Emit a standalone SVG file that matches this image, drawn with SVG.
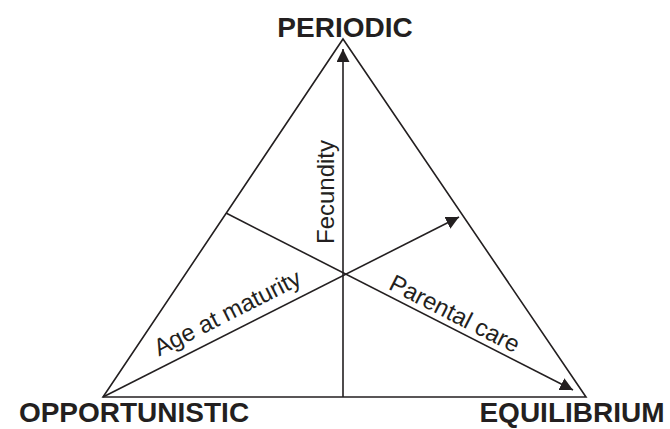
<svg xmlns="http://www.w3.org/2000/svg" width="670" height="429" viewBox="0 0 670 429">
<style>
.ln{stroke:#231f20;stroke-width:1.6;fill:none}
.lbl{font-family:"Liberation Sans",Arial,sans-serif;font-weight:bold;font-size:28px;fill:#231f20}
.ax{font-family:"Liberation Sans",Arial,sans-serif;font-size:24px;fill:#231f20}
</style>
<defs>
<marker id="arr" markerUnits="userSpaceOnUse" markerWidth="15" markerHeight="14" refX="13" refY="6.5" orient="auto">
<path d="M0,0 L13,6.5 L0,13 Z" fill="#231f20"/>
</marker>
</defs>
<g id="triangle">
<path class="ln" d="M343,39 L586,397 L103,397 Z" stroke-linejoin="miter"/>
</g>
<g id="connectors">
<line class="ln" x1="343" y1="397" x2="343" y2="49" marker-end="url(#arr)"/>
<line class="ln" x1="103" y1="397" x2="459" y2="217" marker-end="url(#arr)"/>
<line class="ln" x1="226" y1="213" x2="573" y2="390" marker-end="url(#arr)"/>
</g>
<g id="periodic"><text class="lbl" x="345" y="36.5" text-anchor="middle" font-size="29">PERIODIC</text></g>
<g id="opportunistic"><text class="lbl" x="134" y="422" text-anchor="middle">OPPORTUNISTIC</text></g>
<g id="equilibrium"><text class="lbl" x="572" y="422" text-anchor="middle">EQUILIBRIUM</text></g>
<g id="fecundity"><text class="ax" x="334" y="192" text-anchor="middle" transform="rotate(-90 334 192)">Fecundity</text></g>
<g id="age"><text class="ax" x="231" y="320" text-anchor="middle" transform="rotate(-26.8 231 320)">Age at maturity</text></g>
<g id="parental"><text class="ax" x="451" y="321" text-anchor="middle" transform="rotate(27 451 321)">Parental care</text></g>
</svg>
